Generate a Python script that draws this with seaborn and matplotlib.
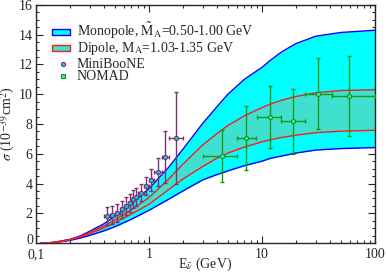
import numpy as np
import pandas as pd
import matplotlib
matplotlib.use('Agg')
import matplotlib.pyplot as plt
import seaborn as sns
from matplotlib.patches import Rectangle
from matplotlib.lines import Line2D
from matplotlib.ticker import FixedLocator, FixedFormatter, MultipleLocator, LogLocator, NullFormatter

# ---- theory curves ----
energy = [0.11, 0.13, 0.15, 0.2, 0.25, 0.3, 0.4, 0.5, 0.7, 1, 1.5, 2, 3, 4, 5, 7, 10, 12, 15, 20, 30, 50, 100]
mono_hi = [0, 0.02, 0.07, 0.25, 0.5, 0.8, 1.3, 1.8, 2.65, 3.65, 5.1, 6.3, 8.05, 9.15, 10.0, 11.0, 11.8, 12.3, 12.85, 13.4, 13.9, 14.15, 14.3]
mono_lo = [0, 0.01, 0.05, 0.18, 0.35, 0.52, 0.82, 1.1, 1.6, 2.2, 2.95, 3.5, 4.25, 4.6, 4.85, 5.2, 5.5, 5.7, 5.85, 6.05, 6.25, 6.35, 6.42]
dip_hi = [0, 0.02, 0.07, 0.24, 0.46, 0.72, 1.15, 1.55, 2.25, 3.05, 4.3, 5.3, 6.6, 7.35, 7.9, 8.55, 9.1, 9.35, 9.6, 9.85, 10.1, 10.25, 10.3]
dip_lo = [0, 0.02, 0.06, 0.22, 0.42, 0.65, 1.02, 1.38, 1.95, 2.6, 3.6, 4.3, 5.15, 5.7, 6.05, 6.45, 6.8, 6.95, 7.1, 7.25, 7.42, 7.52, 7.58]

# ---- MiniBooNE ----
mb_e = [0.425, 0.475, 0.525, 0.575, 0.625, 0.675, 0.725, 0.775, 0.85, 0.95, 1.05, 1.2, 1.4, 1.75]
mb_lo = [0.4, 0.45, 0.5, 0.55, 0.6, 0.65, 0.7, 0.75, 0.8, 0.9, 1.0, 1.1, 1.3, 1.5]
mb_hi = [0.45, 0.5, 0.55, 0.6, 0.65, 0.7, 0.75, 0.8, 0.9, 1.0, 1.1, 1.3, 1.5, 2.0]
mb_sig = [1.81, 1.88, 2.03, 2.26, 2.48, 2.70, 2.95, 3.09, 3.38, 3.81, 4.25, 4.79, 5.79, 7.07]
mb_err = [0.62, 0.6, 0.6, 0.6, 0.6, 0.6, 0.6, 0.6, 0.58, 0.6, 0.72, 0.96, 1.76, 3.1]

# ---- NOMAD ----
nm_e = [4.45, 7.3, 11.8, 18.8, 31.3, 59.7]
nm_lo = [3.0, 6.0, 9.0, 14.8, 23.9, 41.7]
nm_hi = [6.0, 8.9, 14.8, 23.9, 41.4, 100]
nm_sig = [5.84, 7.07, 8.48, 8.19, 10.05, 9.89]
nm_err = [1.74, 2.14, 2.09, 2.19, 2.4, 2.7]

y_ticks = [0, 2, 4, 6, 8, 10, 12, 14, 16]
legend_labels = [r'Monopole, $\tilde{\rm M}_{\rm A}$=0.50-1.00 GeV',
                 r'Dipole, M$_{\rm A}$=1.03-1.35 GeV',
                 'MiniBooNE', 'NOMAD']

sns.set_style('ticks')
plt.rcParams['font.family'] = ['Liberation Serif', 'DejaVu Serif']
plt.rcParams['mathtext.fontset'] = 'stix'

W, H = 386, 275
fig = plt.figure(figsize=(W / 100, H / 100), dpi=100)
ax = fig.add_axes([0.093, 0.116, 0.878, 0.866])

theory = pd.DataFrame({'E': energy, 'mono_hi': mono_hi, 'mono_lo': mono_lo,
                       'dip_hi': dip_hi, 'dip_lo': dip_lo})

cyan, blue = '#00ffff', '#0000ff'
turq, red = '#40e0d0', '#ff1a1a'
ax.fill_between(theory['E'], theory['mono_lo'], theory['mono_hi'], color=cyan, lw=0, zorder=1)
ax.fill_between(theory['E'], theory['dip_lo'], theory['dip_hi'], color=turq, lw=0, zorder=2)
for col, c in [('mono_hi', blue), ('mono_lo', blue), ('dip_hi', red), ('dip_lo', red)]:
    sns.lineplot(data=theory, x='E', y=col, color=c, lw=1.0, ax=ax, zorder=3)

# data points
purple = '#80306f'
green = '#139a13'
mb_e_a = np.array(mb_e)
ax.errorbar(mb_e, mb_sig, yerr=mb_err,
            xerr=[mb_e_a - np.array(mb_lo), np.array(mb_hi) - mb_e_a],
            fmt='none', ecolor=purple, elinewidth=1.0, capsize=1.5, capthick=1.0, zorder=4)
sns.scatterplot(x=mb_e, y=mb_sig, marker='o', s=9, color='#00d0e0', edgecolor=purple,
                linewidth=0.8, ax=ax, zorder=5)

nm_e_a = np.array(nm_e)
ax.errorbar(nm_e, nm_sig, yerr=nm_err,
            xerr=[nm_e_a - np.array(nm_lo), np.array(nm_hi) - nm_e_a],
            fmt='none', ecolor=green, elinewidth=1.0, capsize=1.5, capthick=1.0, zorder=4)
sns.scatterplot(x=nm_e, y=nm_sig, marker='o', s=9, color=turq, edgecolor=green,
                linewidth=0.8, ax=ax, zorder=5)

ax.set_xscale('log')
ax.set_xlim(0.1, 100)
ax.set_ylim(0, 16)
ax.xaxis.set_major_locator(FixedLocator([0.1, 1, 10, 100]))
ax.xaxis.set_major_formatter(FixedFormatter(['0,1', '1', '10', '100']))
ax.xaxis.set_minor_locator(LogLocator(base=10, subs=np.arange(2, 10)))
ax.xaxis.set_minor_formatter(NullFormatter())
ax.yaxis.set_major_locator(FixedLocator(y_ticks))
# the "0" is written separately, a touch higher, so it clears the "0,1" below it
ax.yaxis.set_major_formatter(FixedFormatter([''] + [str(t) for t in y_ticks[1:]]))
ax.yaxis.set_minor_locator(MultipleLocator(0.5))
ax.tick_params(which='both', direction='in', top=True, right=True, labelsize=10)
ax.tick_params(axis='x', pad=3.5)
ax.tick_params(axis='y', pad=2.5)
ax.tick_params(which='major', length=5, width=0.8)
ax.tick_params(which='minor', length=2.5, width=0.8)
for sp in ax.spines.values():
    sp.set_linewidth(1.0)

ax.set_xlabel(r'E$_{\bar{\nu}}$ (GeV)', fontsize=10)
ax.xaxis.set_label_coords(0.5, -0.052)
ax.set_ylabel(r'$\sigma$ (10$^{-39}$cm$^2$)', fontsize=10, labelpad=1)

# legend drawn by hand (pixel positions from the top-left corner)
def fx(px):
    return px / W

def fy(py):
    return 1 - py / H

fig.text(fx(33.5), fy(240), str(y_ticks[0]), fontsize=10, ha='right', va='center')

fig.patches.append(Rectangle((fx(52), fy(35)), 18 / W, 6 / H, transform=fig.transFigure,
                             facecolor=cyan, edgecolor=blue, lw=1.0, zorder=6))
fig.patches.append(Rectangle((fx(52), fy(51)), 18 / W, 6 / H, transform=fig.transFigure,
                             facecolor=turq, edgecolor=red, lw=1.0, zorder=6))
fig.lines.append(Line2D([fx(63)], [fy(63.5)], transform=fig.transFigure, ls='none', marker='o',
                        ms=3, mfc='#00d0e0', mec=purple, mew=0.8, zorder=6))
fig.lines.append(Line2D([fx(63)], [fy(76)], transform=fig.transFigure, ls='none', marker='s',
                        ms=3, mfc=turq, mec=green, mew=0.8, zorder=6))
for lab, yb in zip(legend_labels, [36, 52, 68, 80.5]):
    fig.text(fx(77), fy(yb), lab, fontsize=10, va='baseline', ha='left', zorder=7)

fig.savefig('out.png', dpi=100)
